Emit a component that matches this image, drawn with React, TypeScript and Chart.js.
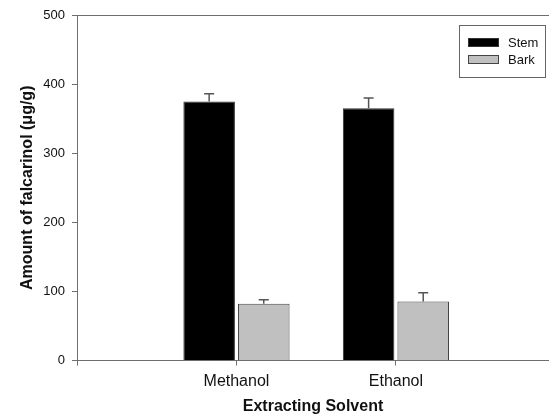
import React, { useEffect, useRef } from "react";
import { Chart, registerables } from "chart.js";

Chart.register(...registerables);

const categories = ["Methanol", "Ethanol"];
const seriesNames = ["Stem", "Bark"];
const stemValues = [375, 365];
const stemErrors = [11, 15];
const barkValues = [82, 85.5];
const barkErrors = [6, 12.5];
const yTicks = [0, 100, 200, 300, 400, 500];

const FONT = "'Liberation Sans', Arial, Helvetica, sans-serif";
const AXIS_COLOR = "#6f6f6f";

const errorBarPlugin = {
  id: "errorBars",
  afterDatasetsDraw(chart: any) {
    const ctx = chart.ctx;
    const yScale = chart.scales.y;
    chart.data.datasets.forEach((ds: any, di: number) => {
      const meta = chart.getDatasetMeta(di);
      meta.data.forEach((bar: any, i: number) => {
        const v = ds.data[i].y;
        const e = ds.errors[i];
        const base = yScale.getPixelForValue(v);
        const top = yScale.getPixelForValue(v + e);
        ctx.save();
        ctx.strokeStyle = "#555555";
        ctx.lineWidth = 1.5;
        ctx.beginPath();
        ctx.moveTo(bar.x, base);
        ctx.lineTo(bar.x, top);
        ctx.moveTo(bar.x - 5, top);
        ctx.lineTo(bar.x + 5, top);
        ctx.stroke();
        ctx.restore();
      });
    });
  },
};

const frameAndLegendPlugin = {
  id: "frameAndLegend",
  afterDraw(chart: any) {
    const { ctx, chartArea } = chart;
    ctx.save();
    // top frame line
    ctx.strokeStyle = AXIS_COLOR;
    ctx.lineWidth = 1;
    ctx.beginPath();
    ctx.moveTo(chartArea.left, Math.round(chartArea.top) + 0.5);
    ctx.lineTo(chartArea.right, Math.round(chartArea.top) + 0.5);
    ctx.stroke();

    // legend box
    const w = 86;
    const h = 52;
    const left = Math.round(chartArea.right - 4 - w);
    const top = Math.round(chartArea.top + 10);
    ctx.fillStyle = "#ffffff";
    ctx.fillRect(left, top, w, h);
    ctx.strokeStyle = "#666666";
    ctx.strokeRect(left + 0.5, top + 0.5, w, h);
    chart.data.datasets.forEach((ds: any, i: number) => {
      const sy = top + 13 + i * 17;
      ctx.fillStyle = ds.backgroundColor;
      ctx.fillRect(left + 9, sy, 31, 9);
      ctx.strokeStyle = ds.borderColor;
      ctx.lineWidth = 1;
      ctx.strokeRect(left + 9.5, sy + 0.5, 30, 8);
      ctx.fillStyle = "#111111";
      ctx.font = "13px " + FONT;
      ctx.textAlign = "left";
      ctx.textBaseline = "middle";
      ctx.fillText(ds.label, left + 49, sy + 5);
    });
    ctx.restore();
  },
};

export default function App() {
  const ref = useRef<HTMLCanvasElement | null>(null);

  useEffect(() => {
    if (!ref.current) return;
    Chart.defaults.font.family = FONT;
    const chart = new Chart(ref.current, {
      type: "bar",
      data: {
        datasets: [
          {
            label: seriesNames[0],
            data: categories.map((_, i) => ({ x: i + 1, y: stemValues[i] })),
            errors: stemErrors,
            backgroundColor: "#000000",
            borderColor: "#333333",
            borderWidth: 1,
          } as any,
          {
            label: seriesNames[1],
            data: categories.map((_, i) => ({ x: i + 1, y: barkValues[i] })),
            errors: barkErrors,
            backgroundColor: "#c0c0c0",
            borderColor: "#444444",
            borderWidth: 1,
          } as any,
        ],
      },
      options: {
        responsive: false,
        animation: false,
        devicePixelRatio: 1,
        layout: { padding: { top: 15, right: 0, bottom: 0, left: 0 } },
        datasets: {
          bar: { categoryPercentage: 0.685, barPercentage: 0.944 },
        },
        plugins: {
          legend: { display: false },
          tooltip: { enabled: false },
        },
        scales: {
          x: {
            type: "linear",
            min: 0,
            max: 2.96,
            offset: false,
            afterBuildTicks: (scale: any) => {
              scale.ticks = [0, 1, 2].map((v) => ({ value: v }));
            },
            afterFit: (scale: any) => {
              scale.height = 53.5;
            },
            ticks: {
              callback: (v: any) => (v >= 1 && v <= categories.length ? categories[v - 1] : ""),
              color: "#111111",
              font: { size: 16 },
              padding: 6,
              maxRotation: 0,
              autoSkip: false,
            },
            grid: {
              display: true,
              offset: false,
              drawOnChartArea: false,
              drawTicks: true,
              tickLength: 5,
              color: AXIS_COLOR,
            },
            border: { display: true, color: AXIS_COLOR, width: 1 },
            title: {
              display: true,
              text: "Extracting Solvent",
              color: "#111111",
              font: { size: 16, weight: "bold", lineHeight: 1 },
              padding: { top: 0, bottom: -1 },
            },
          },
          y: {
            min: 0,
            max: 500,
            afterBuildTicks: (scale: any) => {
              scale.ticks = yTicks.map((v) => ({ value: v }));
            },
            afterFit: (scale: any) => {
              scale.width = 77;
            },
            ticks: {
              color: "#111111",
              font: { size: 13 },
              padding: 7,
            },
            grid: {
              display: true,
              drawOnChartArea: false,
              drawTicks: true,
              tickLength: 5,
              color: AXIS_COLOR,
            },
            border: { display: true, color: AXIS_COLOR, width: 1 },
            title: {
              display: true,
              text: "Amount of falcarinol (\u03BCg/g)",
              color: "#111111",
              font: { size: 16, weight: "bold", lineHeight: 1.2 },
              padding: { top: 18, bottom: 0 },
            },
          },
        },
      },
      plugins: [errorBarPlugin, frameAndLegendPlugin],
    } as any);
    return () => chart.destroy();
  }, []);

  return (
    <div style={{ position: "absolute", left: 0, top: 0, width: 549, height: 414 }}>
      <canvas ref={ref} width={549} height={414} style={{ display: "block" }} />
    </div>
  );
}
